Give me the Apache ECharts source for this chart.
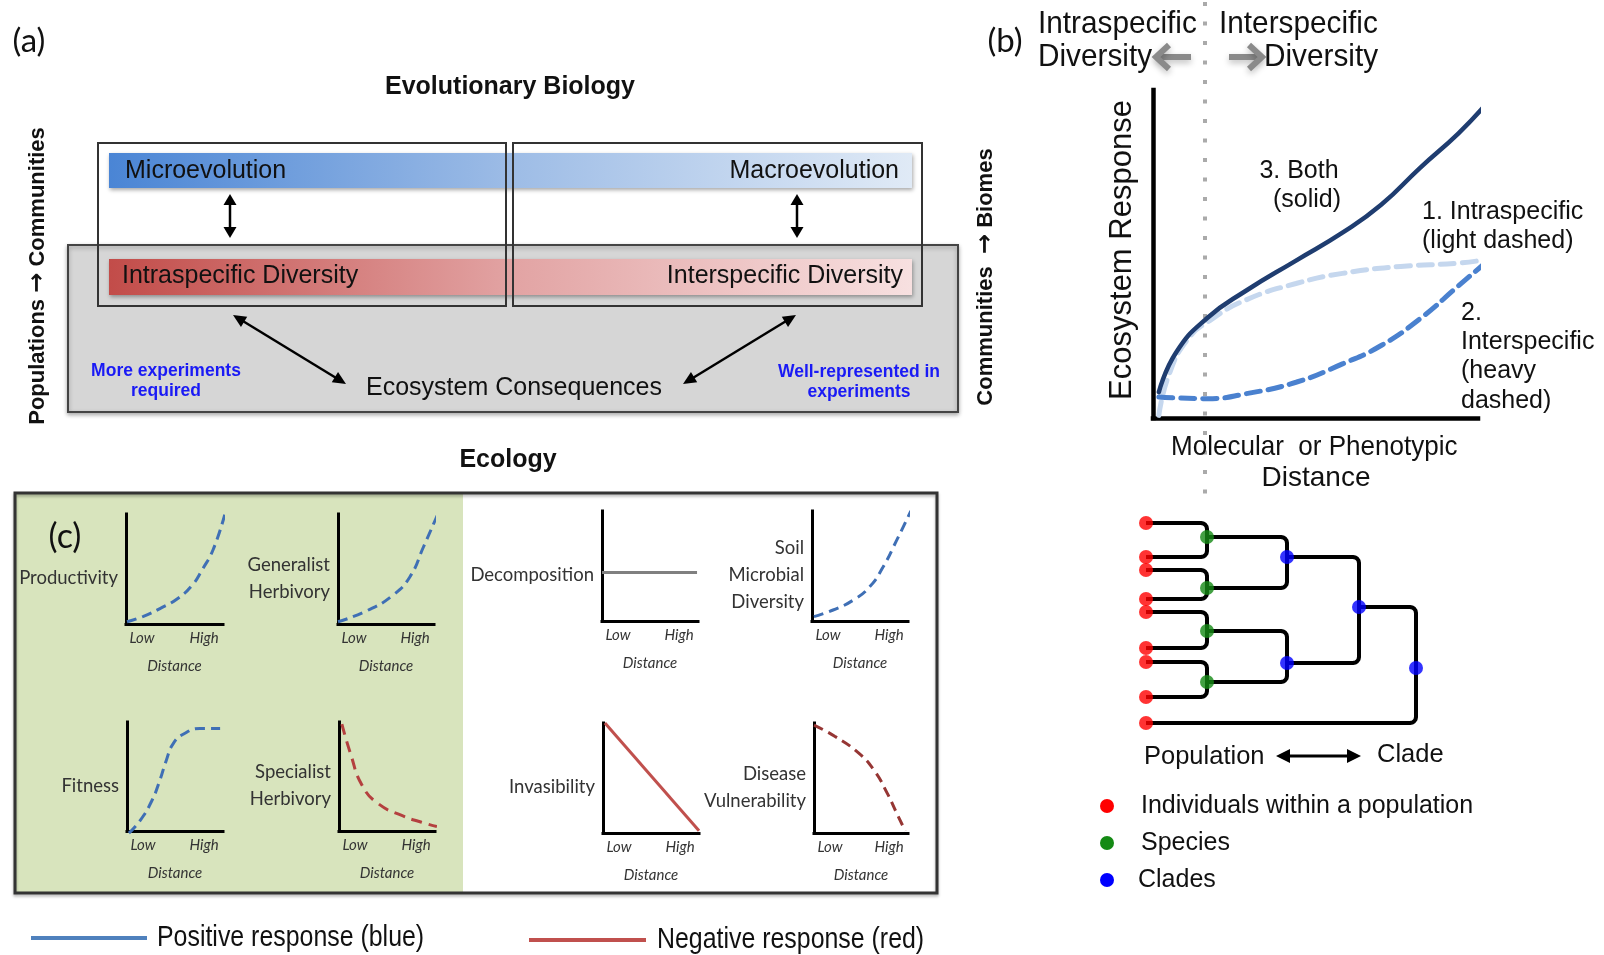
<!DOCTYPE html>
<html><head><meta charset="utf-8">
<script src="https://cdn.jsdelivr.net/npm/echarts/dist/echarts.min.js"></script>
<style>html,body{margin:0;padding:0;background:#fff}#c{width:1604px;height:955px}</style>
</head><body><div id="c"></div>
<script>
// ---------------- DATA ----------------
const smallChartNames = ['Productivity', 'Generalist\nHerbivory', 'Decomposition', 'Soil\nMicrobial\nDiversity',
  'Fitness', 'Specialist\nHerbivory', 'Invasibility', 'Disease\nVulnerability'];
const distanceTicks = ['Low', 'High'];
const distanceName = 'Distance';

const productivity = [[0.01,0.02],[0.18,0.07],[0.35,0.14],[0.53,0.23],[0.68,0.35],[0.79,0.5],[0.9,0.68],[1.02,1.0]];
const generalistHerbivory = [[0.0,0.02],[0.3,0.12],[0.57,0.26],[0.75,0.43],[0.89,0.7],[1.04,1.0]];
const decomposition = [[0,0.44],[0.99,0.44]];
const soilMicrobialDiversity = [[0.02,0.04],[0.22,0.1],[0.43,0.19],[0.6,0.31],[0.74,0.49],[0.88,0.73],[1.03,1.0]];
const fitness = [[0.02,-0.02],[0.14,0.1],[0.26,0.28],[0.34,0.46],[0.41,0.65],[0.48,0.8],[0.59,0.89],[0.76,0.94],[0.97,0.94]];
const specialistHerbivory = [[0.03,0.98],[0.12,0.71],[0.24,0.42],[0.41,0.25],[0.66,0.14],[0.86,0.08],[1.02,0.04]];
const invasibility = [[0.02,1.0],[1.0,0.02]];
const diseaseVulnerability = [[0.0,0.98],[0.22,0.88],[0.47,0.73],[0.64,0.57],[0.78,0.36],[0.88,0.18],[0.97,0.02]];

// panel (b): ecosystem response vs molecular/phenotypic distance (0-100 scale)
const bothSolid = [[1.8,7.9],[7.1,20],[16.7,30.5],[28.6,38.8],[44,48],[58.3,56.5],[70.2,65],[82.1,76.2],[94,86.8],[101.8,94.9]];
const intraLightDashed = [[1.8,0.8],[4.8,12.9],[10.7,24],[17.9,30],[28.6,36],[44,41],[58.3,44.1],[76.2,46.2],[94,47.2],[101.8,48.2]];
const interHeavyDashed = [[1.8,6.4],[16.7,5.9],[28.6,7.4],[44,10.9],[58.3,16.5],[70.2,22.1],[82.1,30.2],[94,40.3],[101.8,46.9]];

// dendrogram: [depth, position]
const leaves = [[0,3],[0,37],[0,50],[0,79],[0,92],[0,128],[0,142],[0,177],[0,203]];
const species = [[61,17],[61,68],[61,111],[61,162]];
const clades = [[141,37],[141,143],[213,87],[270,148]];
// parent -> [childA, childB] ; refs: L=leaf, S=species, C=clade
const treeJoins = [
  ['S0','L0','L1'],['S1','L2','L3'],['S2','L4','L5'],['S3','L6','L7'],
  ['C0','S0','S1'],['C1','S2','S3'],['C2','C0','C1'],['C3','C2','L8']
];
const treeLegend = ['Individuals within a population', 'Species', 'Clades'];

// ---------------- STYLES / LAYOUT ----------------
const SANS = '"Liberation Sans", Arial, sans-serif';
const CAL = 'Lato, "Open Sans", sans-serif';
const BLUE_D = '#3f6fb5', RED_D = '#b4403f';

const smallLayout = [
  {left:126, top:514, w:97, h:110}, {left:338, top:514, w:96, h:110},
  {left:602, top:511, w:96, h:110}, {left:812, top:511, w:96, h:110},
  {left:127, top:722, w:96, h:109}, {left:339, top:722, w:96, h:109},
  {left:603, top:723, w:96, h:110}, {left:814, top:723, w:94, h:110}
];
const smallSeries = [
  {data:productivity, color:BLUE_D, dash:[10,6], smooth:true},
  {data:generalistHerbivory, color:BLUE_D, dash:[10,6], smooth:true},
  {data:decomposition, color:'#808080', dash:'solid', smooth:false},
  {data:soilMicrobialDiversity, color:BLUE_D, dash:[10,6], smooth:true},
  {data:fitness, color:BLUE_D, dash:[10,6], smooth:true},
  {data:specialistHerbivory, color:RED_D, dash:[11,7], smooth:true},
  {data:invasibility, color:'#c0504d', dash:'solid', smooth:false},
  {data:diseaseVulnerability, color:'#963634', dash:[10,6], smooth:true}
];

const grids = [], xAxes = [], yAxes = [], series = [];
const hiddenAxis = {axisTick:{show:false}, axisLabel:{show:false}, splitLine:{show:false}};
const tickFont = {fontStyle:'italic', fontSize:15, fontFamily:CAL, color:'#333'};
smallLayout.forEach((g, i) => {
  grids.push({left:g.left, top:g.top, width:g.w, height:g.h, containLabel:false});
  xAxes.push({
    type:'value', gridIndex:i, min:0, max:1, interval:1,
    axisLine:{show:true, onZero:false, lineStyle:{color:'#000', width:3, cap:'square'}},
    axisTick:{show:false}, splitLine:{show:false},
    axisLabel:{show:true, margin:7, color:'#333',
      formatter: v => v === 0 ? '{l|' + distanceTicks[0] + '}' : '{h|' + distanceTicks[1] + '}',
      rich:{
        l:Object.assign({padding:[0,0,0,32]}, tickFont),
        h:Object.assign({padding:[0,38,0,0]}, tickFont)
      }},
    name:distanceName, nameLocation:'middle', nameGap:35,
    nameTextStyle:tickFont
  });
  yAxes.push({
    type:'value', gridIndex:i, min:0, max:1,
    axisLine:{show:true, onZero:false, lineStyle:{color:'#000', width:3, cap:'square'}},
    ...hiddenAxis,
    name:'{s|\u00a0}\n' + smallChartNames[i], nameLocation:'middle', nameRotate:0, nameGap:8,
    nameTextStyle:{align:'right', verticalAlign:'middle', fontSize:18.5, lineHeight:27, color:'#333',
      fontFamily:CAL, rich:{s:{fontSize:4, lineHeight:19, height:19}}}
  });
  const s = smallSeries[i];
  series.push({type:'line', xAxisIndex:i, yAxisIndex:i, data:s.data, showSymbol:false, smooth:s.smooth,
    clip:false, silent:true, lineStyle:{color:s.color, width:3, type:s.dash}});
});

// panel (b) grid (index 8)
grids.push({left:1153, top:90, width:325, height:328});
xAxes.push({type:'value', gridIndex:8, min:0, max:100,
  axisLine:{show:true, onZero:false, lineStyle:{color:'#000', width:4.5, cap:'square'}}, ...hiddenAxis});
yAxes.push({type:'value', gridIndex:8, min:0, max:100,
  axisLine:{show:true, onZero:false, lineStyle:{color:'#000', width:4.5, cap:'square'}}, ...hiddenAxis});
series.push({type:'line', xAxisIndex:8, yAxisIndex:8, data:intraLightDashed, smooth:true, showSymbol:false, clip:false, z:3,
  lineStyle:{color:'#c5d7ee', width:5, type:[14,8], cap:'round'}});
series.push({type:'line', xAxisIndex:8, yAxisIndex:8, data:interHeavyDashed, smooth:true, showSymbol:false, clip:false, z:4,
  lineStyle:{color:'#4a81cf', width:5, type:[14,8], cap:'round'}});
series.push({type:'line', xAxisIndex:8, yAxisIndex:8, data:bothSolid, smooth:true, showSymbol:false, clip:false, z:5,
  lineStyle:{color:'#1f3d70', width:4.5, cap:'round'}});

// dendrogram grid (index 9)
grids.push({left:1146, top:520, width:270, height:210});
xAxes.push({type:'value', gridIndex:9, min:0, max:270, show:false});
yAxes.push({type:'value', gridIndex:9, min:0, max:210, inverse:true, show:false});
const nodeOf = ref => ({L:leaves, S:species, C:clades})[ref[0]][+ref.slice(1)];
const R = 6;
const brackets = treeJoins.map(([p, a, b]) => {
  const P = nodeOf(p), A = nodeOf(a), B = nodeOf(b);
  const dy = Math.sign(B[1] - A[1]);
  const pts = [[A[0], A[1]]];
  for (let k = 0; k <= 4; k++) { const t = k / 4 * Math.PI / 2;
    pts.push([P[0] - R + R*Math.sin(t), A[1] + dy*R - dy*R*Math.cos(t)]); }
  for (let k = 4; k >= 0; k--) { const t = k / 4 * Math.PI / 2;
    pts.push([P[0] - R + R*Math.sin(t), B[1] - dy*R + dy*R*Math.cos(t)]); }
  pts.push([B[0], B[1]]);
  return {coords:pts};
});
series.push({type:'lines', coordinateSystem:'cartesian2d', xAxisIndex:9, yAxisIndex:9, polyline:true, silent:true, z:2,
  data:brackets, lineStyle:{color:'#000', width:4, opacity:1, join:'round'}});
series.push({type:'scatter', xAxisIndex:9, yAxisIndex:9, data:leaves, symbolSize:14, itemStyle:{color:'#ff0000'}, z:3, silent:true});
series.push({type:'scatter', xAxisIndex:9, yAxisIndex:9, data:species, symbolSize:14, itemStyle:{color:'#148a14'}, z:3, silent:true});
series.push({type:'scatter', xAxisIndex:9, yAxisIndex:9, data:clades, symbolSize:14, itemStyle:{color:'#0000ff'}, z:3, silent:true});

// ---------------- GRAPHIC DECORATION ----------------
function T(text, x, y, font, o) {
  o = o || {};
  const el = {type:'text', x, y, rotation:o.rot || 0, z:o.z || 20,
    style:{text, font, fill:o.fill || '#111', align:o.align || 'left', verticalAlign:'middle', lineHeight:o.lh}};
  if (o.sx) { el.scaleX = o.sx; el.originX = 0; el.originY = 0; }
  if (o.rich) el.style.rich = o.rich;
  return el;
}
function arrow(x1, y1, x2, y2, o) {
  o = o || {};
  const color = o.color || '#000', w = o.w || 2.5, head = o.head || 11, hw = o.hw || 5, z = o.z || 15;
  const a = Math.atan2(y2 - y1, x2 - x1), c = Math.cos(a), s = Math.sin(a);
  const items = [{type:'line', z, shape:{x1:x1 + c*head*0.7, y1:y1 + s*head*0.7, x2:x2 - c*head*0.7, y2:y2 - s*head*0.7},
    style:{stroke:color, lineWidth:w}}];
  const headAt = (x, y, dc, ds) => {
    const bx = x - dc*head, by = y - ds*head;
    return {type:'polygon', z, shape:{points:[[x, y], [bx - ds*hw, by + dc*hw], [bx + ds*hw, by - dc*hw]]}, style:{fill:color}};
  };
  items.push(headAt(x2, y2, c, s));
  items.push(headAt(x1, y1, -c, -s));
  return items;
}
function chevronArrow(xTail, xTip, y) {
  const d = xTip > xTail ? 1 : -1;
  const st = {stroke:'#8a8a8a', lineWidth:6, fill:null, shadowBlur:6, shadowColor:'rgba(0,0,0,0.25)', shadowOffsetY:3};
  return [
    {type:'line', z:15, shape:{x1:xTail, y1:y, x2:xTip - d*3, y2:y}, style:st},
    {type:'polyline', z:15, shape:{points:[[xTip - d*13, y - 12], [xTip, y], [xTip - d*13, y + 12]]}, style:st}
  ];
}
const LG = echarts.graphic.LinearGradient;
const barShadow = {shadowBlur:4, shadowColor:'rgba(0,0,0,0.35)', shadowOffsetY:2, shadowOffsetX:1};
const arrowRich = {a:{font:'bold 22px ' + SANS, fill:'#111'}, b:{font:'bold 24px "DejaVu Sans", sans-serif', fill:'#111'}};
const graphic = [
  // ---- panel (a)
  T('(a)', 29, 41, '33px ' + CAL, {align:'center'}),
  T('Evolutionary Biology', 510, 87, 'bold 25px ' + SANS, {align:'center'}),
  {type:'rect', z:1, shape:{x:68, y:245, width:890, height:167}, style:{fill:'#d6d6d6', stroke:'#444', lineWidth:2,
    shadowBlur:4, shadowColor:'rgba(0,0,0,0.3)', shadowOffsetY:2}},
  {type:'rect', z:5, shape:{x:98, y:143, width:408, height:163}, style:{fill:null, stroke:'#333', lineWidth:2}},
  {type:'rect', z:5, shape:{x:513, y:143, width:409, height:163}, style:{fill:null, stroke:'#333', lineWidth:2}},
  {type:'rect', z:3, shape:{x:109, y:153, width:803, height:35}, style:Object.assign({
    fill:new LG(0, 0, 1, 0, [{offset:0, color:'#4a85d5'}, {offset:0.5, color:'#9dbce6'}, {offset:1, color:'#e0eaf6'}])}, barShadow)},
  {type:'rect', z:3, shape:{x:109, y:259, width:803, height:36}, style:Object.assign({
    fill:new LG(0, 0, 1, 0, [{offset:0, color:'#c24c49'}, {offset:0.5, color:'#e2a3a3'}, {offset:1, color:'#f7e0e0'}])}, barShadow)},
  T('Microevolution', 125, 171, '25px ' + SANS),
  T('Macroevolution', 899, 171, '25px ' + SANS, {align:'right'}),
  T('Intraspecific Diversity', 122, 276, '25px ' + SANS),
  T('Interspecific Diversity', 903, 276, '25px ' + SANS, {align:'right'}),
  ...arrow(230, 194, 230, 238, {w:2.5, head:11, hw:6.5}),
  ...arrow(797, 194, 797, 238, {w:2.5, head:11, hw:6.5}),
  ...arrow(233, 315, 346, 384, {w:2.5, head:13, hw:6}),
  ...arrow(796, 315, 683, 384, {w:2.5, head:13, hw:6}),
  T('Ecosystem Consequences', 514, 388, '25px ' + SANS, {align:'center'}),
  T('More experiments\nrequired', 166, 381, 'bold 17.5px ' + SANS, {align:'center', fill:'#1a1af5', lh:20}),
  T('Well-represented in\nexperiments', 859, 382, 'bold 17.5px ' + SANS, {align:'center', fill:'#1a1af5', lh:20}),
  T('{a|Populations }{b|\u2192}{a| Communities}', 38, 276, 'bold 22px ' + SANS, {align:'center', rot:Math.PI/2, rich:arrowRich}),
  T('{a|Communities  }{b|\u2192}{a| Biomes}', 986, 277, 'bold 22px ' + SANS, {align:'center', rot:Math.PI/2, rich:arrowRich}),
  T('Ecology', 508, 460, 'bold 25px ' + SANS, {align:'center'}),

  // ---- panel (c)
  {type:'rect', z:0, shape:{x:15, y:493, width:448, height:400}, style:{fill:'#d8e4bd'}},
  {type:'rect', z:1, shape:{x:15, y:493, width:922, height:400}, style:{fill:null, stroke:'#333', lineWidth:3,
    shadowBlur:3, shadowColor:'rgba(0,0,0,0.3)', shadowOffsetY:2}},
  T('(c)', 65, 537, '34px ' + CAL, {align:'center'}),
  {type:'line', z:10, shape:{x1:31, y1:938, x2:147, y2:938}, style:{stroke:'#4f81bd', lineWidth:4}},
  T('Positive response (blue)', 157, 938, '30px ' + SANS, {sx:0.83}),
  {type:'line', z:10, shape:{x1:529, y1:940, x2:646, y2:940}, style:{stroke:'#c0504d', lineWidth:4}},
  T('Negative response (red)', 657, 940, '30px ' + SANS, {sx:0.83}),

  // ---- panel (b)
  {type:'line', z:1, shape:{x1:1205, y1:2, x2:1205, y2:502}, style:{stroke:'#aaaaaa', lineWidth:4, lineDash:[4, 15.5]}},
  T('(b)', 1005, 41, '33px ' + CAL, {align:'center'}),
  T('Intraspecific', 1038, 24, '32px ' + SANS, {sx:0.93}),
  T('Diversity', 1038, 57, '32px ' + SANS, {sx:0.93}),
  T('Interspecific', 1219, 24, '32px ' + SANS, {sx:0.93}),
  T('Diversity', 1264, 57, '32px ' + SANS, {sx:0.93}),
  ...chevronArrow(1191, 1156, 57),
  ...chevronArrow(1229, 1262, 57),
  T('Ecosystem Response', 1122, 250, '31px ' + SANS, {align:'center', rot:Math.PI/2}),
  T('Molecular  or Phenotypic', 1171, 447, '28px ' + SANS, {sx:0.93}),
  T('Distance', 1316, 478, '28px ' + SANS, {align:'center'}),
  T('3. Both', 1299, 171, '25px ' + SANS, {align:'center'}),
  T('(solid)', 1307, 200, '25px ' + SANS, {align:'center'}),
  T('1. Intraspecific', 1422, 212, '25px ' + SANS),
  T('(light dashed)', 1422, 241, '25px ' + SANS),
  T('2.', 1461, 313, '25px ' + SANS),
  T('Interspecific', 1461, 342, '25px ' + SANS),
  T('(heavy', 1461, 371, '25px ' + SANS),
  T('dashed)', 1461, 401, '25px ' + SANS),
  T('Population', 1144, 757, '25.5px ' + SANS),
  ...arrow(1276, 756, 1361, 756, {w:3, head:14, hw:7}),
  T('Clade', 1377, 755, '25.5px ' + SANS),
  {type:'circle', z:10, shape:{cx:1107, cy:806, r:7}, style:{fill:'#ff0000'}},
  {type:'circle', z:10, shape:{cx:1107, cy:843, r:7}, style:{fill:'#148a14'}},
  {type:'circle', z:10, shape:{cx:1107, cy:880, r:7}, style:{fill:'#0000ff'}},
  T(treeLegend[0], 1141, 806, '25px ' + SANS),
  T(treeLegend[1], 1141, 843, '25px ' + SANS),
  T(treeLegend[2], 1138, 880, '25px ' + SANS)
];

const chart = echarts.init(document.getElementById('c'), null, {renderer:'canvas', width:1604, height:955});
chart.setOption({
  backgroundColor:'#ffffff',
  animation:false,
  grid:grids, xAxis:xAxes, yAxis:yAxes, series,
  graphic:{elements:graphic}
});
</script>
</body></html>
